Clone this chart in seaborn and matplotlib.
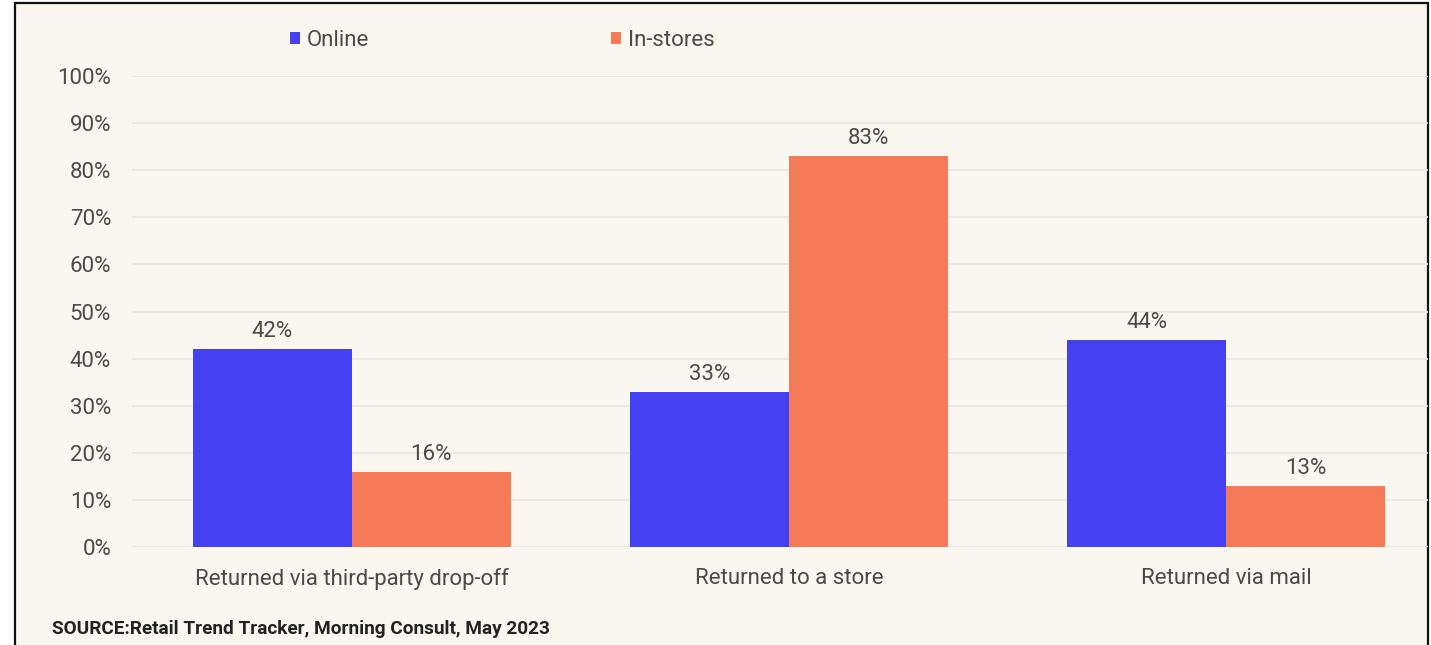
import matplotlib
matplotlib.use("Agg")
import matplotlib.pyplot as plt
from matplotlib.patches import Rectangle
import seaborn as sns
import pandas as pd

categories = ["Returned via third-party drop-off", "Returned to a store", "Returned via mail"]
online = [42, 33, 44]
in_stores = [16, 83, 13]
series_names = ["Online", "In-stores"]
y_ticks = [0, 10, 20, 30, 40, 50, 60, 70, 80, 90, 100]
source_text = "SOURCE:Retail Trend Tracker, Morning Consult, May 2023"

df = pd.DataFrame({
    "category": categories * 2,
    "share": online + in_stores,
    "channel": [series_names[0]] * 3 + [series_names[1]] * 3,
})

BG = "#FAF7F0"
BLUE = "#4541F3"
ORANGE = "#F57B58"
TXT = "#4a4a4a"
FS = 16

sns.set_theme(style="white")
plt.rcParams["font.family"] = ["Roboto", "DejaVu Sans"]

W, H = 1431, 645
fig = plt.figure(figsize=(W / 100, H / 100), dpi=100)
fig.patch.set_facecolor("white")

# cream panel with a dark frame, drawn beneath the axes
panel = Rectangle((15 / W, -0.02), (1428 - 15) / W, 1 - 3 / H + 0.02,
                  transform=fig.transFigure, facecolor=BG, edgecolor="#111111",
                  linewidth=1.6, zorder=-10)
fig.patches.append(panel)

ax = fig.add_axes([132 / W, 1 - 547 / H, (1428 - 132) / W, (547 - 76) / H])
ax.set_zorder(5)
ax.set_facecolor("none")

sns.barplot(data=df, x="category", y="share", hue="channel",
            palette=[BLUE, ORANGE], width=0.728, gap=0, saturation=1,
            linewidth=0, ax=ax, legend=True, zorder=3)

ax.set_ylim(0, 100)
ax.set_xlim(-0.503, 2.462)
ax.set_yticks(y_ticks)
ax.set_yticklabels([f"{v}%" for v in y_ticks])
ax.grid(axis="y", color="#ECE8DF", linewidth=1.2, zorder=0)
ax.set_axisbelow(True)
for s in ax.spines.values():
    s.set_visible(False)
ax.set_xlabel("")
ax.set_ylabel("")
ax.tick_params(axis="y", length=0, pad=15, labelsize=FS, labelcolor=TXT)
ax.tick_params(axis="x", length=0, pad=15, labelsize=FS, labelcolor=TXT)

for cont in ax.containers:
    ax.bar_label(cont, labels=[f"{v:.0f}%" for v in cont.datavalues],
                 padding=5, fontsize=FS, color=TXT)

handles, labels = ax.get_legend_handles_labels()
ax.legend(handles, labels, loc="center left",
          bbox_to_anchor=(290 / W, 1 - 40 / H), bbox_transform=fig.transFigure,
          ncol=2, frameon=False, fontsize=FS, labelcolor=TXT,
          handlelength=0.45, handleheight=0.45, handletextpad=0.3,
          columnspacing=10.9, borderpad=0, borderaxespad=0)

fig.text(52 / W, 1 - 629 / H, source_text, fontsize=13.7, fontweight="bold",
         color="#222222", va="center", ha="left")

fig.savefig("out.png", dpi=100, facecolor=fig.get_facecolor())
